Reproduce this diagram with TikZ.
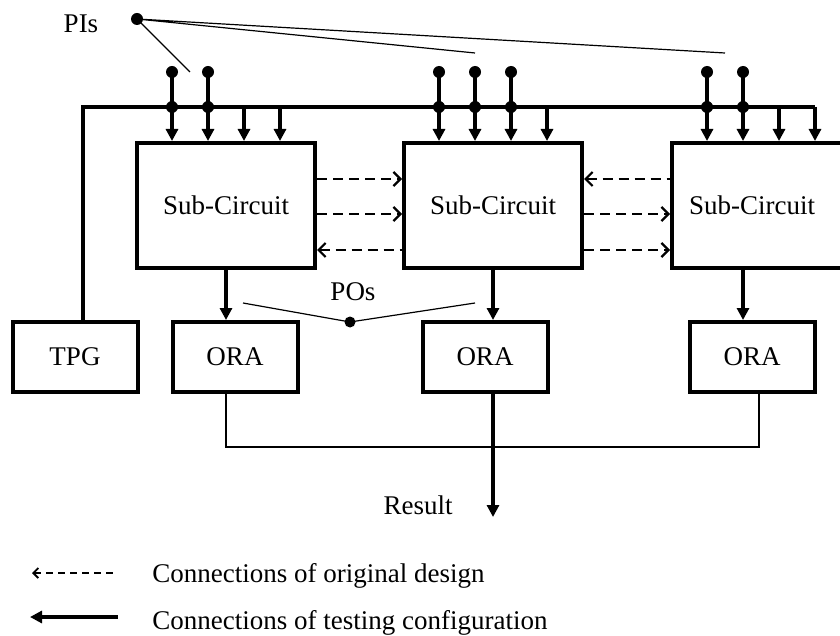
\documentclass[tikz,border=0pt]{standalone}
\usepackage{fontspec}
\setmainfont{Liberation Serif}
\usetikzlibrary{arrows.meta,calc}

\tikzset{
  blk/.style={draw,line width=2pt,minimum width=89pt,minimum height=62.5pt,inner sep=0pt},
  unit/.style={draw,line width=2pt,minimum width=62.5pt,minimum height=35pt,inner sep=0pt},
  wire/.style={line width=1.6pt},
  tst/.style={wire,-{Triangle[length=6pt,width=6pt]}},
  orig/.style={line width=1.1pt,dash pattern=on 5pt off 3pt},
  fwd/.style={-{Straight Barb[length=3.5pt,width=7pt]}},
  bwd/.style={{Straight Barb[length=3.5pt,width=7pt]}-},
  pin/.style={line width=0.6pt},
  dot/.style={circle,fill,inner sep=0pt,minimum size=6pt},
}

\begin{document}
\begin{tikzpicture}[x=0.5pt,y=-0.5pt,font=\fontsize{13.5}{16}\selectfont]
  \useasboundingbox (0,0) rectangle (840,636);

  \node[blk] (sc1) at (226,205.5) {Sub-Circuit};
  \node[blk] (sc2) at (493,205.5) {Sub-Circuit};
  \node[blk] (sc3) at (761,205.5) {\hspace*{-9pt}Sub-Circuit};

  \node[unit] (tpg) at (75,357) {TPG};
  \node[unit] (ora1) at (235,357) {ORA};
  \node[unit] (ora2) at (485,357) {ORA};
  \node[unit] (ora3) at (752,357) {ORA};

  \coordinate (bus) at (0,107);
  \coordinate (pin) at (0,72);

  \foreach \s in {1,2,3}
    \foreach \k/\dx in {a/-54,b/-18,c/18,d/54}
      \coordinate (sc\s-\k) at ($(sc\s.north)+(\dx,0)$);

  % test pattern bus
  \draw[wire] ($(tpg.north)+(8,0)$) |- (sc3-d |- bus);
  \foreach \s in {1,2,3}
    \foreach \k in {a,b,c,d}
      \draw[tst] (sc\s-\k |- bus) -- (sc\s-\k);

  % primary inputs
  \foreach \c in {sc1-a,sc1-b,sc2-a,sc2-b,sc2-c,sc3-a,sc3-b}{
    \draw[wire] (\c |- pin) -- (\c |- bus);
    \node[dot] (\c-top) at (\c |- pin) {};
    \node[dot] (\c-mid) at (\c |- bus) {};
  }

  \node[dot] (pi) at (137,19) {};
  \node (pilbl) at (81,24) {PIs};
  \coordinate (pi1) at (190,72);
  \coordinate (pi2) at (475,53);
  \coordinate (pi3) at (725,53);
  \draw[pin] (pi.center) -- (pi1) (pi.center) -- (pi2) (pi.center) -- (pi3);

  % original connections
  \foreach \dy/\d in {-26.5/fwd,8.5/fwd,44.5/bwd}
    \draw[orig,\d] ($(sc1.east)+(0,\dy)$) -- ($(sc2.west)+(0,\dy)$);
  \foreach \dy/\d in {-26.5/bwd,8.5/fwd,44.5/fwd}
    \draw[orig,\d] ($(sc2.east)+(0,\dy)$) -- ($(sc3.west)+(0,\dy)$);

  % primary outputs
  \draw[tst] (sc1.south) -- (sc1.south |- ora1.north);
  \draw[tst] (sc2.south) -- (sc2.south |- ora2.north);
  \draw[tst] (sc3-b |- sc3.south) -- (sc3-b |- ora3.north);

  \node[dot,minimum size=5.5pt] (po) at (350,322) {};
  \node (polbl) at (353,292) {POs};
  \coordinate (po1) at (243,303);
  \coordinate (po2) at (475,303);
  \draw[pin] (po1) -- (po.center) -- (po2);

  % result
  \coordinate (mrg) at (0,447);
  \coordinate (res) at (0,517);
  \draw[line width=1.3pt] (sc1.south |- ora1.south) |- ($(ora3.south |- mrg)+(7,0)$) -- ($(ora3.south)+(7,0)$);
  \draw[tst] (sc2.south |- ora2.south) -- (sc2.south |- res);
  \node (reslbl) at (418,505) {Result};

  % legend
  \coordinate (lg1a) at (32,573);
  \coordinate (lg1b) at (118,573);
  \coordinate (lg2a) at (30,617);
  \coordinate (lg2b) at (118,617);
  \draw[line width=0.9pt,dash pattern=on 3.5pt off 2.5pt,{Straight Barb[length=2.5pt,width=5pt]}-] (lg1a) -- (lg1b);
  \node[anchor=base west,inner sep=0pt] (lg1) at (152,582) {Connections of original design};
  \draw[line width=2.2pt,{Triangle[length=6pt,width=6pt]}-] (lg2a) -- (lg2b);
  \node[anchor=base west,inner sep=0pt] (lg2) at (152,629) {Connections of testing configuration};
\end{tikzpicture}
\end{document}
